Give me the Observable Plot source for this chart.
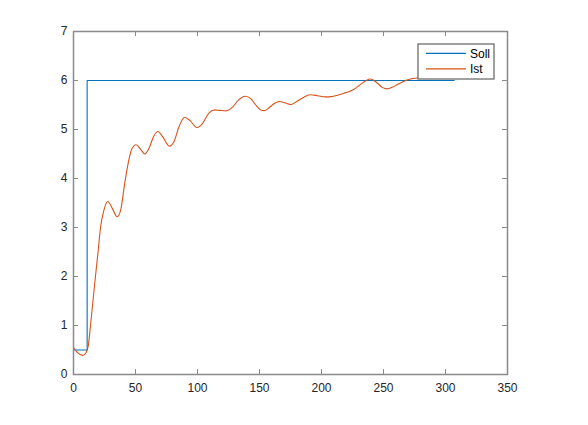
<!DOCTYPE html>
<html>
<head>
<meta charset="utf-8">
<script src="https://cdn.jsdelivr.net/npm/d3@7"></script>
<script src="https://cdn.jsdelivr.net/npm/@observablehq/plot@0.6"></script>
<style>
  html, body { margin: 0; padding: 0; background: #fff; }
  #chart { width: 588px; height: 425px; }
</style>
</head>
<body>
<div id="chart"></div>
<script>
// Soll (setpoint) series
const sollX = [0, 11, 11, 307];
const sollY = [0.5, 0.5, 6, 6];

// Ist (actual) series
const istX = [0, 3, 7.5, 10, 12, 13.7, 15.7, 17.7, 19.8, 21.8, 24.5, 27.7, 31.5, 35.2, 38, 41, 44, 47, 50.5, 54, 57.5, 61, 64.5, 68, 72, 77.5, 81, 85, 89.5, 94, 99.5, 104, 109, 114, 118, 123, 128, 133, 138.5, 143, 147, 151, 154, 158, 162, 166, 171, 175.5, 180, 185, 191, 197, 203, 208, 213, 218, 223, 228, 232, 236, 239.5, 244, 249, 253, 257, 262, 267, 272, 277, 285, 295, 307];
const istY = [0.55, 0.45, 0.39, 0.44, 0.6, 1.0, 1.5, 2.0, 2.5, 3.0, 3.35, 3.53, 3.38, 3.22, 3.35, 3.85, 4.3, 4.6, 4.69, 4.6, 4.5, 4.62, 4.85, 4.96, 4.85, 4.66, 4.75, 5.05, 5.25, 5.18, 5.04, 5.12, 5.33, 5.4, 5.39, 5.38, 5.45, 5.6, 5.68, 5.63, 5.5, 5.4, 5.385, 5.45, 5.53, 5.57, 5.54, 5.51, 5.57, 5.65, 5.71, 5.69, 5.665, 5.67, 5.7, 5.74, 5.78, 5.85, 5.93, 6.0, 6.03, 5.97, 5.86, 5.83, 5.86, 5.93, 5.99, 6.03, 6.05, 6.08, 6.1, 6.1];

const xTicks = [0, 50, 100, 150, 200, 250, 300, 350];
const yTicks = [0, 1, 2, 3, 4, 5, 6, 7];
const seriesNames = ["Soll", "Ist"];
const seriesColors = ["#0072BD", "#D95319"];

const soll = sollX.map((x, i) => ({x, y: sollY[i]}));
const ist = istX.map((x, i) => ({x, y: istY[i]}));

const W = 588, H = 425;
const mL = 73, mR = 81, mT = 31, mB = 51;
const axisColor = "#8a8a8a";
const tickLen = 5;
const innerW = W - mL - mR, innerH = H - mT - mB;
const font = "Liberation Sans, Arial, sans-serif";

const plot = Plot.plot({
  width: W,
  height: H,
  marginLeft: mL,
  marginRight: mR,
  marginTop: mT,
  marginBottom: mB,
  style: {fontFamily: font, fontSize: "12px", color: "#262626", background: "#fff"},
  x: {domain: [0, 350]},
  y: {domain: [0, 7]},
  marks: [
    Plot.line(soll, {x: "x", y: "y", stroke: seriesColors[0], strokeWidth: 1.1}),
    Plot.line(ist, {x: "x", y: "y", stroke: seriesColors[1], strokeWidth: 1.1, curve: "monotone-x"}),
    // inward ticks: bottom, top, left, right
    Plot.tickX(xTicks, {x: d => d, stroke: axisColor, strokeWidth: 1, insetTop: innerH - tickLen}),
    Plot.tickX(xTicks, {x: d => d, stroke: axisColor, strokeWidth: 1, insetBottom: innerH - tickLen}),
    Plot.tickY(yTicks, {y: d => d, stroke: axisColor, strokeWidth: 1, insetRight: innerW - tickLen}),
    Plot.tickY(yTicks, {y: d => d, stroke: axisColor, strokeWidth: 1, insetLeft: innerW - tickLen}),
    Plot.frame({stroke: axisColor, strokeWidth: 1.5}),
    Plot.axisX({ticks: xTicks, tickSize: 0, tickPadding: 9, tickFormat: d3.format("d"), label: null, fill: "#262626"}),
    Plot.axisY({ticks: yTicks, tickSize: 0, tickPadding: 6, tickFormat: d3.format("d"), label: null, fill: "#262626"})
  ]
});

document.getElementById("chart").appendChild(plot);

// Legend (opaque box in the upper right of the axes)
const svg = d3.select(plot);
const lg = svg.append("g").attr("class", "legend").attr("text-anchor", "start");
const lx = 418, ly = 44, lw = 76, lh = 35;
lg.append("rect").attr("x", lx).attr("y", ly).attr("width", lw).attr("height", lh)
  .style("fill", "#fff").style("stroke", "#6e6e6e").style("stroke-width", "1.3px");
seriesNames.forEach((name, i) => {
  const yy = ly + 9.3 + i * 15.5;
  lg.append("line").attr("x1", lx + 8).attr("x2", lx + 48).attr("y1", yy).attr("y2", yy)
    .style("stroke", seriesColors[i]).style("stroke-width", "1.2px");
  lg.append("text").attr("x", lx + 52).attr("y", yy).attr("dy", "0.35em")
    .attr("text-anchor", "start")
    .style("font-family", font).style("font-size", "12px")
    .style("fill", "#000").text(name);
});
</script>
</body>
</html>
